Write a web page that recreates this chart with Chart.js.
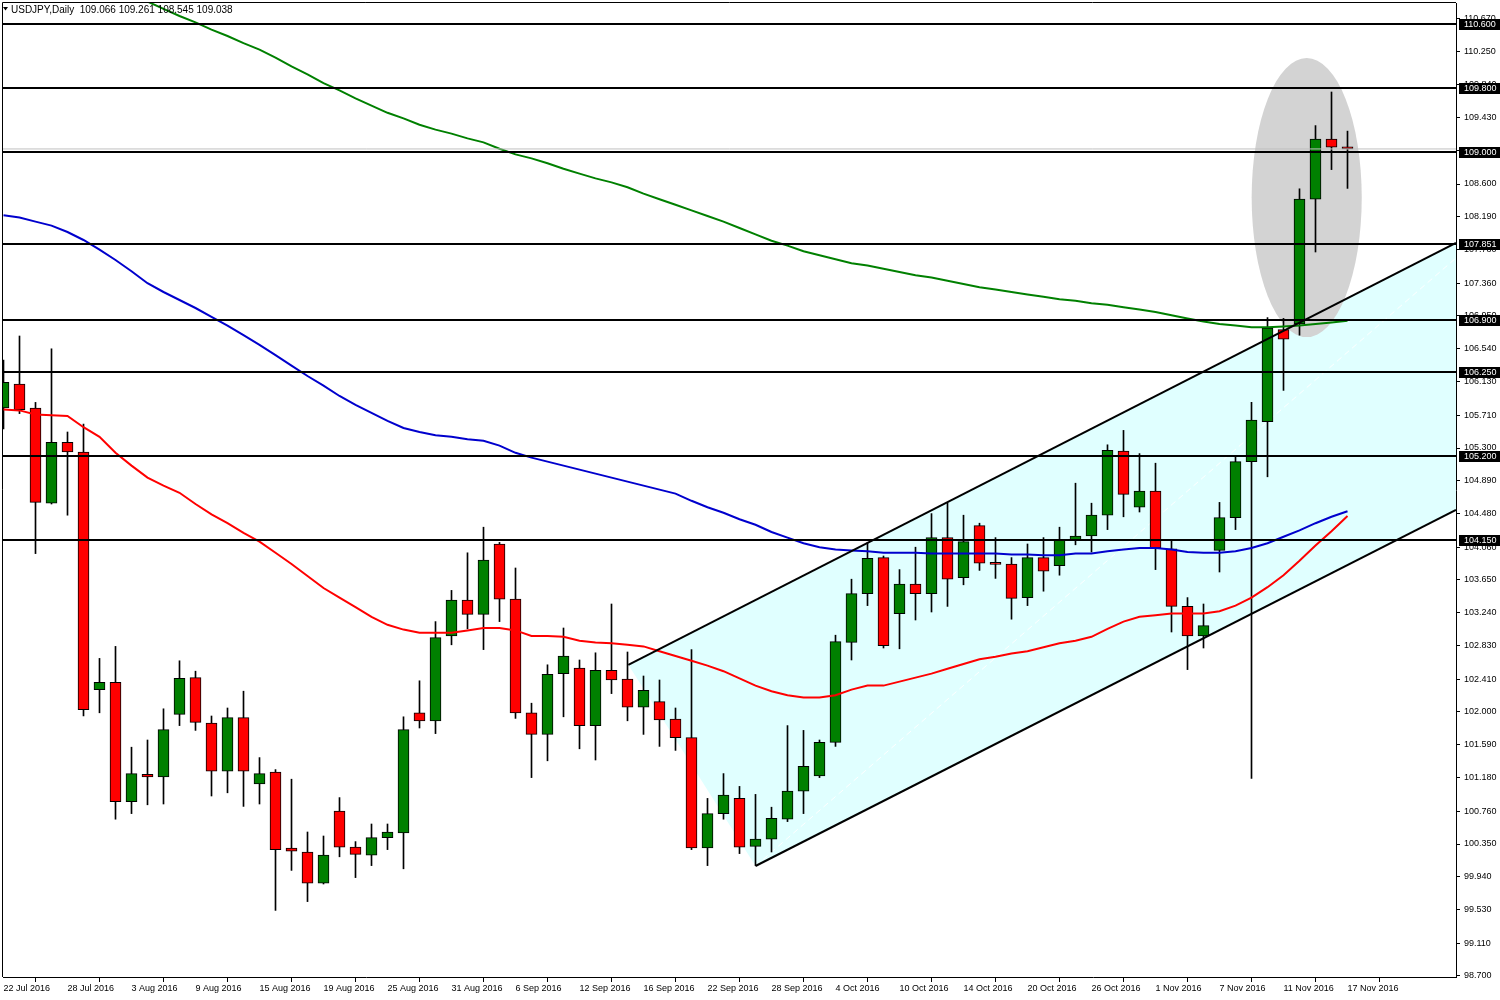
<!DOCTYPE html>
<html>
<head>
<meta charset="utf-8">
<title>USDJPY Daily</title>
<script src="https://cdn.jsdelivr.net/npm/chart.js@4.4.0/dist/chart.umd.min.js"></script>
<style>
  html, body { margin: 0; padding: 0; background: #fff; }
  #wrap { width: 1500px; height: 1000px; }
</style>
</head>
<body>
<div id="wrap"><canvas id="chart" width="1500" height="1000"></canvas></div>
<script>
// USDJPY daily bars, 22 Jul 2016 -> 17 Nov 2016 (index 0..84)
const opens = [105.80,106.10,105.80,104.61,105.37,105.25,102.28,102.37,100.88,101.22,
  101.19,101.97,102.43,101.86,101.26,101.93,101.10,101.25,100.30,100.25,
  99.86,100.76,100.31,100.21,100.43,100.49,101.99,101.89,102.95,103.40,
  103.22,104.10,103.41,101.99,101.72,102.48,102.55,101.83,102.52,102.41,
  102.06,102.13,101.91,101.68,100.30,100.73,100.92,100.32,100.41,100.66,
  101.01,101.20,101.62,102.87,103.48,103.93,103.23,103.60,103.48,104.18,
  103.68,104.33,103.855,103.85,103.43,103.93,103.83,104.15,104.20,104.46,
  105.26,104.56,104.76,104.04,103.32,102.95,104.02,104.43,105.13,105.63,
  106.78,106.85,108.41,109.16,109.066];
const highs = [106.40,106.70,105.87,106.54,105.50,105.60,102.67,102.82,101.56,101.65,
  102.04,102.64,102.51,101.95,102.05,102.26,101.43,101.28,101.16,100.50,
  100.45,100.93,100.38,100.60,100.60,101.94,102.39,103.13,103.52,103.99,
  104.31,104.12,103.80,102.11,102.59,103.05,102.65,102.74,103.35,102.75,
  102.45,102.40,102.05,102.78,100.92,101.23,101.07,100.97,100.81,101.83,
  101.77,101.65,102.96,103.66,104.12,103.95,103.78,104.06,104.48,104.61,
  104.46,104.36,104.18,103.93,104.10,104.18,104.31,104.86,104.61,105.34,
  105.52,105.23,105.11,104.14,103.43,103.35,104.62,105.19,105.87,106.93,
  106.92,108.54,109.33,109.75,109.261];
const lows = [105.54,105.73,103.98,104.60,104.46,101.95,101.99,100.66,100.73,100.84,
  100.85,101.83,101.77,100.95,100.99,100.82,100.85,99.52,100.02,99.63,
  99.85,100.19,99.93,100.08,100.28,100.04,101.80,101.73,102.84,103.04,
  102.78,103.13,101.92,101.18,101.39,101.94,101.54,101.40,102.23,101.89,
  101.72,101.57,101.52,100.28,100.08,100.66,100.23,100.08,100.25,100.63,
  100.73,101.18,101.57,102.65,103.33,102.80,102.79,103.15,103.25,103.32,
  103.59,103.77,103.67,103.16,103.33,103.51,103.71,104.09,104.00,104.28,
  104.44,104.50,103.78,103.00,102.53,102.80,103.75,104.28,101.17,104.94,
  106.02,106.71,107.75,108.78,108.545];
const closes = [106.12,105.78,104.62,105.37,105.25,102.03,102.37,100.88,101.23,101.19,
  101.78,102.42,101.87,101.26,101.93,101.26,101.23,100.28,100.26,99.86,
  100.21,100.31,100.22,100.43,100.50,101.78,101.89,102.93,103.40,103.22,
  103.90,103.41,101.99,101.72,102.47,102.70,101.83,102.52,102.40,102.06,
  102.27,101.90,101.68,100.30,100.73,100.96,100.31,100.41,100.67,101.01,
  101.32,101.62,102.88,103.48,103.92,102.83,103.60,103.48,104.18,103.66,
  104.13,103.86,103.845,103.42,103.93,103.76,104.15,104.20,104.46,105.27,
  104.72,104.76,104.05,103.32,102.95,103.08,104.43,105.13,105.65,106.80,
  106.66,108.41,109.16,109.06,109.038];

// moving averages (red = 50, blue = 100, green = 200)
const maRed = [105.78,105.77,105.72,105.71,105.70,105.56,105.44,105.24,105.08,104.93,
  104.83,104.74,104.60,104.47,104.36,104.24,104.13,103.99,103.85,103.70,
  103.55,103.43,103.31,103.19,103.09,103.03,102.99,102.99,102.99,103.02,
  103.05,103.05,103.02,102.95,102.95,102.94,102.89,102.87,102.86,102.84,
  102.82,102.76,102.70,102.64,102.58,102.51,102.42,102.33,102.26,102.21,
  102.18,102.18,102.21,102.28,102.33,102.33,102.38,102.43,102.48,102.54,
  102.60,102.66,102.69,102.73,102.76,102.81,102.86,102.89,102.94,103.04,
  103.13,103.19,103.21,103.23,103.23,103.23,103.26,103.33,103.43,103.56,
  103.71,103.89,104.08,104.26,104.45];
const maBlue = [108.21,108.18,108.13,108.08,108.00,107.90,107.78,107.65,107.51,107.36,
  107.25,107.15,107.05,106.94,106.83,106.71,106.59,106.46,106.33,106.20,
  106.08,105.95,105.84,105.74,105.64,105.55,105.50,105.46,105.44,105.41,
  105.39,105.33,105.24,105.18,105.13,105.08,105.03,104.98,104.93,104.88,
  104.83,104.78,104.73,104.64,104.56,104.49,104.41,104.34,104.25,104.18,
  104.11,104.06,104.03,104.02,104.01,103.99,103.99,103.99,103.98,103.98,
  103.98,103.98,103.98,103.97,103.97,103.96,103.96,103.98,103.98,104.01,
  104.03,104.05,104.05,104.03,104.00,103.99,103.99,104.01,104.05,104.11,
  104.19,104.27,104.36,104.44,104.51];
const maGreen = [111.69,111.60,111.51,111.42,111.33,111.24,111.15,111.06,110.97,110.88,
  110.79,110.70,110.62,110.53,110.45,110.36,110.28,110.18,110.07,109.97,
  109.86,109.77,109.67,109.58,109.49,109.42,109.34,109.28,109.23,109.17,
  109.12,109.04,108.97,108.92,108.86,108.79,108.73,108.67,108.62,108.56,
  108.48,108.41,108.34,108.27,108.20,108.13,108.05,107.97,107.89,107.83,
  107.76,107.71,107.66,107.61,107.58,107.54,107.50,107.46,107.43,107.39,
  107.35,107.31,107.28,107.25,107.22,107.19,107.16,107.14,107.11,107.09,
  107.06,107.03,107.00,106.96,106.92,106.88,106.85,106.83,106.81,106.81,
  106.82,106.83,106.85,106.87,106.89];

// axis labels: one date every 4 bars
const dateLabels = ["22 Jul 2016","28 Jul 2016","3 Aug 2016","9 Aug 2016","15 Aug 2016","19 Aug 2016",
  "25 Aug 2016","31 Aug 2016","6 Sep 2016","12 Sep 2016","16 Sep 2016","22 Sep 2016",
  "28 Sep 2016","4 Oct 2016","10 Oct 2016","14 Oct 2016","20 Oct 2016","26 Oct 2016",
  "1 Nov 2016","7 Nov 2016","11 Nov 2016","17 Nov 2016"];
const priceTicks = [98.700,99.110,99.530,99.940,100.350,100.760,101.180,101.590,102.000,102.410,
  102.830,103.240,103.650,104.060,104.480,104.890,105.300,105.710,106.130,106.540,
  106.950,107.360,107.780,108.190,108.600,109.020,109.430,109.840,110.250,110.670];

// drawn objects: horizontal levels, bid line, channel, ellipse
const levels = [110.600, 109.800, 109.000, 107.851, 106.900, 106.250, 105.200, 104.150];
const bidPrice = 109.038;
const upperChannel = [[39.05, 102.59], [90.78, 107.8625]];
const lowerChannel = [[47.0, 100.075], [90.78, 104.525]];
const channelMid = [[47.0, 100.075], [90.78, 107.675]];
const ellipseCenter = [81.45, 108.43];
const ellipseRadius = [3.44, 1.744];

const titleText = "USDJPY,Daily  109.066 109.261 108.545 109.038";

const xMin = -0.03125, xMax = 90.78125;
const yMin = 98.6875, yMax = 110.8625;

const BULL = '#008000', BEAR = '#ff0000';
const FONT = { family: 'Liberation Sans', size: 9 };

const pts = arr => arr.map(p => ({ x: p[0], y: p[1] }));
const series = arr => arr.map((v, i) => ({ x: i, y: v }));

function lineSet(data, color, width, order, extra) {
  return Object.assign({
    type: 'line', data, borderColor: color, borderWidth: width,
    pointRadius: 0, tension: 0, fill: false, order
  }, extra || {});
}

const channelShape = pts([upperChannel[0], upperChannel[1], lowerChannel[1], lowerChannel[0], upperChannel[0]]);

const datasets = [
  lineSet(channelShape, 'rgba(0,0,0,0)', 0, 20, { fill: 'shape', backgroundColor: '#e0ffff' }),
  lineSet(pts(channelMid), '#ffffff', 1, 15, { borderDash: [6, 4] }),
  {
    type: 'bar',
    data: lows.map((l, i) => ({ x: i, y: [l, highs[i]] })),
    backgroundColor: '#000', borderWidth: 0,
    barThickness: 1, grouped: false, order: 12
  },
  {
    type: 'bar',
    data: opens.map((o, i) => ({ x: i, y: [o, closes[i]] })),
    backgroundColor: opens.map((o, i) => closes[i] >= o ? BULL : BEAR),
    borderColor: '#000', borderWidth: 1, borderSkipped: false,
    minBarLength: 2, barThickness: 11, grouped: false, order: 11
  },
  lineSet(series(maGreen), '#008000', 2, 9),
  lineSet(series(maBlue), '#0000cd', 2, 8),
  lineSet(series(maRed), '#ff0000', 2, 7),
  lineSet(pts(upperChannel), '#000', 2, 6),
  lineSet(pts(lowerChannel), '#000', 2, 6),
  lineSet([{ x: xMin, y: bidPrice }, { x: xMax, y: bidPrice }], '#c0c0c0', 1, 5),
  ...levels.map(v => lineSet([{ x: xMin, y: v }, { x: xMax, y: v }], '#000', 2, 4))
];

// ellipse behind the bars, boxes for the levels, frame and title on top
const overlay = {
  id: 'overlay',
  beforeDatasetsDraw(chart) {
    const { ctx, chartArea: a, scales: { x, y } } = chart;
    const cx = x.getPixelForValue(ellipseCenter[0]);
    const cy = y.getPixelForValue(ellipseCenter[1]);
    const rx = Math.abs(x.getPixelForValue(ellipseCenter[0] + ellipseRadius[0]) - cx);
    const ry = Math.abs(y.getPixelForValue(ellipseCenter[1] + ellipseRadius[1]) - cy);
    ctx.save();
    ctx.beginPath();
    ctx.rect(a.left, a.top, a.right - a.left, a.bottom - a.top);
    ctx.clip();
    ctx.fillStyle = '#d3d3d3';
    ctx.beginPath();
    ctx.ellipse(cx, cy, rx, ry, 0, 0, Math.PI * 2);
    ctx.fill();
    ctx.restore();
  },
  afterDraw(chart) {
    const { ctx, chartArea: a, scales: { y } } = chart;
    ctx.save();
    ctx.strokeStyle = '#000';
    ctx.lineWidth = 1;
    ctx.beginPath();
    ctx.moveTo(a.left - 0.5, a.bottom);
    ctx.lineTo(a.left - 0.5, a.top - 0.5);
    ctx.lineTo(a.right, a.top - 0.5);
    ctx.stroke();

    ctx.font = `${FONT.size}px "${FONT.family}"`;
    ctx.textBaseline = 'middle';
    ctx.textAlign = 'left';
    levels.forEach(v => {
      const py = Math.round(y.getPixelForValue(v));
      ctx.fillStyle = '#000';
      ctx.fillRect(a.right + 3, py - 5, 41, 11);
      ctx.fillStyle = '#fff';
      ctx.fillText(v.toFixed(3), a.right + 8, py + 0.5);
    });

    ctx.fillStyle = '#000';
    ctx.beginPath();
    ctx.moveTo(3, 7); ctx.lineTo(8, 7); ctx.lineTo(5.5, 10.5);
    ctx.closePath();
    ctx.fill();
    ctx.font = '10px "Liberation Sans"';
    ctx.fillText(titleText, 11, 10);
    ctx.restore();
  }
};

new Chart(document.getElementById('chart'), {
  type: 'bar',
  data: { datasets },
  options: {
    responsive: false,
    animation: false,
    layout: { padding: { left: 3, top: 3, right: 0, bottom: 0 } },
    plugins: {
      legend: { display: false },
      tooltip: { enabled: false },
      filler: { drawTime: 'beforeDatasetsDraw' }
    },
    scales: {
      x: {
        type: 'linear', min: xMin, max: xMax, offset: false,
        grid: { drawOnChartArea: false, tickLength: 5, color: '#000' },
        border: { color: '#000' },
        ticks: {
          autoSkip: false, maxRotation: 0, align: 'start', padding: 1,
          color: '#000', font: FONT,
          callback: v => dateLabels[Math.round(v / 4)]
        },
        afterBuildTicks: s => { s.ticks = dateLabels.map((_, k) => ({ value: k * 4 })); },
        afterFit: s => { s.height = 23; s.paddingLeft = 0; s.paddingRight = 0; }
      },
      y: {
        type: 'linear', position: 'right', min: yMin, max: yMax,
        grid: { drawOnChartArea: false, tickLength: 4, color: '#000' },
        border: { color: '#000' },
        ticks: {
          autoSkip: false, padding: 4, color: '#000', font: FONT,
          callback: v => v.toFixed(3)
        },
        afterBuildTicks: s => { s.ticks = priceTicks.map(v => ({ value: v })); },
        afterFit: s => { s.width = 44; s.paddingTop = 0; s.paddingBottom = 0; }
      }
    }
  },
  plugins: [overlay]
});
</script>
</body>
</html>
